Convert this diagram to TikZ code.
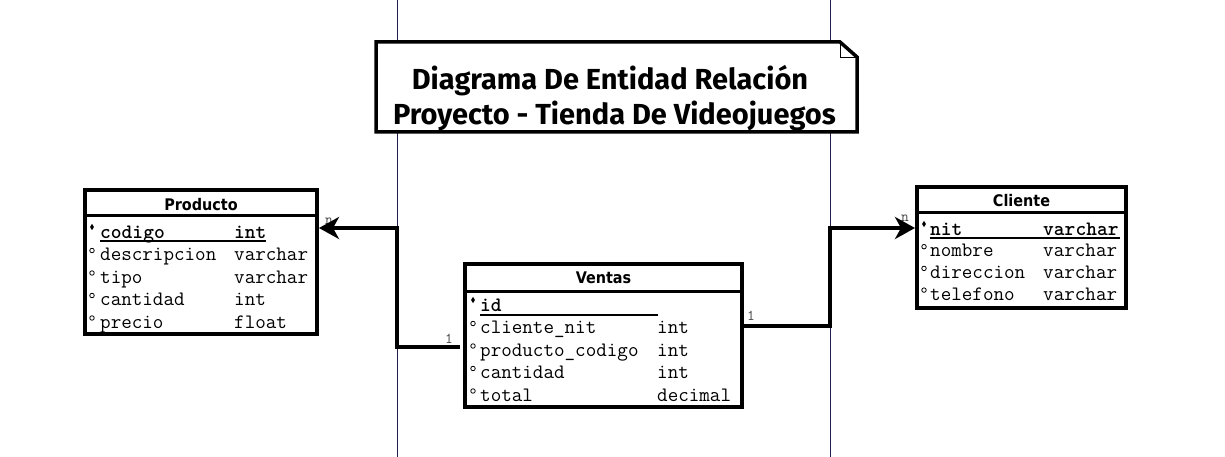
\documentclass[tikz,border=0pt]{standalone}
\usepackage{fontspec}
\setmainfont{Liberation Serif}
\newfontfamily\cabfont{DejaVu Sans Condensed}
\newfontfamily\titfont{Fira Sans}
\usepackage{xcolor}
\usetikzlibrary{positioning, shapes.geometric, arrows.meta, calc}

\definecolor{guiacolor}{RGB}{30,30,80}
\definecolor{cardcolor}{RGB}{70,70,70}

\tikzset{
  guia/.style={guiacolor, line width=0.9pt},
  nota/.style={draw, line width=3.5pt, fill=white, line join=miter},
  titulo/.style={font=\titfont\bfseries\fontsize{29}{34}\selectfont, anchor=base, inner sep=0pt},
  tabla/.style={draw, line width=4pt, fill=white, inner sep=0pt},
  separa/.style={line width=3pt},
  cabecera/.style={font=\cabfont\bfseries\fontsize{16}{18}\selectfont, anchor=base, inner sep=0pt},
  campo/.style={font=\ttfamily\fontsize{20.5}{22}\selectfont, anchor=base west, inner sep=0pt},
  llave/.style={campo, font=\ttfamily\bfseries\fontsize{20.5}{22}\selectfont},
  marca/.style={diamond, fill, inner sep=0pt, minimum width=4pt, minimum height=6.5pt},
  circulo/.style={circle, draw, line width=0.8pt, inner sep=0pt, minimum size=4.5pt},
  subraya/.style={line width=1.3pt},
  card/.style={font=\ttfamily\fontsize{15}{16}\selectfont, text=cardcolor, inner sep=0pt},
  rel/.style={line width=4pt, -{Stealth[length=20pt, width=22pt, inset=6pt]}}
}

\begin{document}
\begin{tikzpicture}[x=1pt, y=-1pt]
  \useasboundingbox (0,0) rectangle (1225,457);
  \fill[white] (0,0) rectangle (1225,457);

  % guias verticales
  \coordinate (guia-a) at (397,0);
  \coordinate (guia-b) at (830,0);
  \draw[guia] (guia-a) -- ++(0,457);
  \draw[guia] (guia-b) -- ++(0,457);

  % Titulo
  \draw[nota] (376,42) -- (840,42) -- (857,57) -- (857,132) -- (376,132) -- cycle;
  \draw[line width=0.8pt] (840,42) |- (857,57);
  \node[titulo] (titulo-1) at (610,90) {Diagrama De Entidad Relación};
  \node[titulo] (titulo-2) at (614.5,125) {Proyecto - Tienda De Videojuegos};

  % Producto
  \node[tabla, minimum width=232pt, minimum height=144pt] (producto) at (201,262) {};
  \draw[separa] (producto.north west |- 0,215) -- (producto.north east |- 0,215);
  \node[cabecera] (producto-cab) at (201,210) {Producto};
  \node[marca] at (92,227) {};
  \node[llave] (p-1) at (100,238) {codigo};
  \node[llave] at (234,238) {int};
  \draw[subraya] (100,241) -- (266,241);
  \foreach \campo/\tipo [count=\k from 2] in {descripcion/varchar, tipo/varchar, cantidad/int, precio/float} {
    \node[circulo] at (92,{238+22.5*(\k-1)-10}) {};
    \node[campo] (p-\k) at (100,{238+22.5*(\k-1)}) {\campo};
    \node[campo] at (234,{238+22.5*(\k-1)}) {\tipo};
  }

  % Ventas
  \node[tabla, minimum width=277pt, minimum height=143pt] (ventas) at (603.5,335.5) {};
  \draw[separa] (ventas.north west |- 0,291) -- (ventas.north east |- 0,291);
  \node[cabecera] (ventas-cab) at (603.5,283) {Ventas};
  \node[marca] at (473,300) {};
  \node[llave] (v-1) at (480,311) {id};
  \draw[subraya] (480,315) -- (658,315);
  \foreach \campo/\tipo [count=\k from 2] in {cliente\_nit/int, producto\_codigo/int, cantidad/int, total/decimal} {
    \node[circulo] at (473,{311+22.5*(\k-1)-10}) {};
    \node[campo] (v-\k) at (480,{311+22.5*(\k-1)}) {\campo};
    \node[campo] at (657,{311+22.5*(\k-1)}) {\tipo};
  }

  % Cliente
  \node[tabla, minimum width=209pt, minimum height=121pt] (cliente) at (1021.5,247.5) {};
  \draw[separa] (cliente.north west |- 0,212) -- (cliente.north east |- 0,212);
  \node[cabecera] (cliente-cab) at (1021.5,207) {Cliente};
  \node[marca] at (924,224) {};
  \node[llave] (c-1) at (930,235) {nit};
  \node[llave] at (1043,235) {varchar};
  \draw[subraya] (930,238) -- (1120,238);
  \foreach \campo/\tipo [count=\k from 2] in {nombre/varchar, direccion/varchar, telefono/varchar} {
    \node[circulo] at (924,{235+21.7*(\k-1)-10}) {};
    \node[campo] (c-\k) at (930,{235+21.7*(\k-1)}) {\campo};
    \node[campo] at (1043,{235+21.7*(\k-1)}) {\tipo};
  }

  % cardinalidades
  \node[card] (card-p) at (329,221) {n};
  \node[card] (card-vp) at (449,339) {1};
  \node[card] (card-vc) at (751,316) {1};
  \node[card] (card-c) at (905,218) {n};

  % relaciones
  \draw[rel] ($(ventas.west |- v-3.base)+(-3,-9)$) -| ($(guia-a |- p-1.base)+(0,-10)$) -- ($(producto.east |- p-1.base)+(0,-10)$);
  \draw[rel] ($(ventas.east |- v-2.base)+(0,-8)$) -| ($(guia-b |- c-1.base)+(0,-7)$) -- ($(cliente.west |- c-1.base)+(0,-7)$);
\end{tikzpicture}
\end{document}
